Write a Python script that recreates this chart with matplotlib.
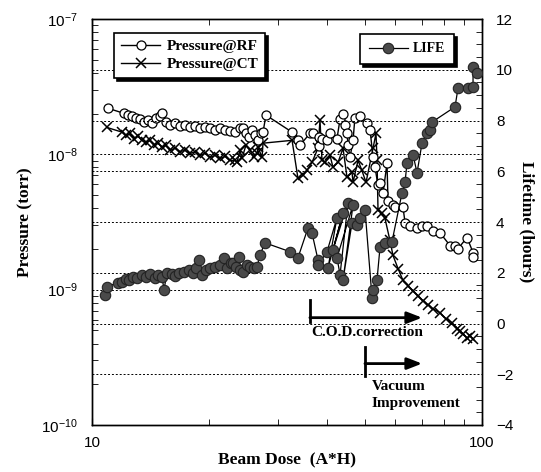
import matplotlib
matplotlib.use("Agg")
import matplotlib.pyplot as plt
from matplotlib.ticker import LogLocator, NullFormatter, MultipleLocator, FixedLocator

plt.rcParams['font.family'] = ['Liberation Sans', 'DejaVu Sans']
plt.rcParams['mathtext.default'] = 'regular'

# ---- data ----
rf_dose = [11.0, 12.08, 12.37, 12.66, 12.96, 13.28, 13.59, 13.92, 14.25, 14.59, 14.94, 15.12,
           15.47, 15.85, 16.32, 16.81, 17.32, 17.84, 18.37, 18.92, 19.49, 20.07, 20.67, 21.29,
           21.93, 22.58, 23.26, 23.96, 24.39, 24.82, 25.26, 25.71, 26.18, 26.65, 27.13, 27.45,
           27.93, 32.58, 33.74, 34.15, 36.22, 36.87, 38.19, 38.19, 38.88, 40.05, 40.77, 42.48,
           43.25, 44.02, 44.54, 45.07, 45.34, 45.87, 46.70, 47.21, 48.64, 50.72, 51.64, 52.55,
           53.17, 54.12, 54.77, 55.73, 57.06, 57.41, 59.12, 59.83, 62.73, 63.48, 65.37, 68.13,
           70.19, 72.27, 74.82, 77.98, 82.76, 85.27, 86.78, 91.54, 94.83, 94.83]
rf_press = [2.19e-8, 2.01e-8, 1.95e-8, 1.91e-8, 1.85e-8, 1.82e-8, 1.73e-8, 1.79e-8, 1.70e-8,
            1.85e-8, 1.91e-8, 2.01e-8, 1.73e-8, 1.64e-8, 1.70e-8, 1.61e-8, 1.64e-8, 1.58e-8,
            1.61e-8, 1.56e-8, 1.58e-8, 1.56e-8, 1.51e-8, 1.56e-8, 1.51e-8, 1.48e-8, 1.46e-8,
            1.56e-8, 1.56e-8, 1.43e-8, 1.34e-8, 1.51e-8, 1.38e-8, 1.27e-8, 1.43e-8, 1.46e-8,
            1.95e-8, 1.46e-8, 1.27e-8, 1.17e-8, 1.43e-8, 1.43e-8, 1.15e-8, 1.34e-8, 1.31e-8,
            1.27e-8, 1.43e-8, 1.31e-8, 1.82e-8, 1.98e-8, 1.64e-8, 1.43e-8, 1.17e-8, 9.5e-9,
            1.27e-8, 1.85e-8, 1.91e-8, 1.70e-8, 1.51e-8, 9.5e-9, 8.0e-9, 5.89e-9, 6.1e-9,
            5.14e-9, 8.58e-9, 4.56e-9, 4.19e-9, 4.05e-9, 4.05e-9, 3.13e-9, 2.98e-9, 2.88e-9,
            2.98e-9, 2.98e-9, 2.73e-9, 2.64e-9, 2.12e-9, 2.12e-9, 2.01e-9, 2.43e-9, 1.88e-9,
            1.73e-9]

ct_dose = [10.93, 11.94, 12.22, 12.51, 12.81, 13.12, 13.43, 13.75, 14.08, 14.42, 14.76, 15.12,
           15.47, 15.85, 16.32, 16.81, 17.32, 17.84, 18.37, 18.92, 19.49, 20.07, 20.67, 21.29,
           21.93, 22.58, 23.26, 23.54, 23.96, 24.24, 24.82, 25.41, 26.02, 26.49, 26.65, 27.29,
           27.45, 32.58, 33.74, 34.75, 35.59, 36.65, 37.97, 38.42, 38.88, 39.57, 40.77, 41.49,
           42.74, 44.02, 45.07, 46.42, 46.70, 48.09, 49.20, 50.42, 52.55, 53.48, 53.80, 54.12,
           55.41, 56.39, 58.07, 59.12, 60.92, 62.73, 64.6, 66.55, 68.5, 70.60, 72.7, 74.82,
           77.98, 80.87, 83.75, 86.28, 87.8, 89.3, 91.54, 93.16, 94.83]
ct_press = [1.58e-8, 1.46e-8, 1.38e-8, 1.43e-8, 1.31e-8, 1.36e-8, 1.27e-8, 1.23e-8, 1.27e-8,
            1.17e-8, 1.21e-8, 1.13e-8, 1.17e-8, 1.07e-8, 1.11e-8, 1.05e-8, 1.07e-8, 1.02e-8,
            1.04e-8, 9.83e-9, 1.02e-8, 9.5e-9, 9.83e-9, 9.34e-9, 9.66e-9, 9.03e-9, 9.03e-9,
            8.73e-9, 1.07e-8, 9.34e-9, 1.17e-8, 1.07e-8, 9.5e-9, 1.02e-8, 1.13e-8, 9.5e-9,
            1.21e-8, 1.27e-8, 6.64e-9, 6.99e-9, 7.61e-9, 8.73e-9, 1.11e-8, 1.79e-8, 9.03e-9,
            8.73e-9, 9.83e-9, 8.01e-9, 8.73e-9, 1.11e-8, 6.76e-9, 7.36e-9, 6.21e-9, 9.03e-9,
            7.61e-9, 6.21e-9, 1.11e-8, 1.43e-8, 9.03e-9, 3.85e-9, 3.66e-9, 3.36e-9, 2.31e-9,
            1.79e-9, 1.43e-9, 1.17e-9, 1.07e-9, 9.83e-10, 9.04e-10, 8.29e-10, 7.74e-10,
            7.23e-10, 6.76e-10, 6.1e-10, 5.7e-10, 5.14e-10, 4.97e-10, 4.72e-10, 4.41e-10,
            4.56e-10, 4.34e-10]

life_dose = [10.80, 10.93, 11.66, 11.94, 12.22, 12.44, 12.74, 13.04, 13.43, 13.75, 14.08, 14.50,
             14.76, 15.12, 15.30, 15.57, 16.03, 16.32, 16.71, 17.21, 17.73, 18.15, 18.48, 18.81,
             19.15, 19.6, 20.07, 20.67, 21.29, 21.81, 22.19, 22.72, 22.99, 23.39, 23.82, 23.96,
             24.39, 24.96, 25.41, 26.02, 26.49, 26.97, 27.77, 32.20, 33.74, 35.80, 36.65, 37.97,
             37.97, 40.05, 42.48, 40.29, 44.02, 41.49, 45.34, 43.25, 42.48, 46.70, 44.02, 46.42,
             47.77, 48.64, 50.12, 52.24, 52.55, 53.80, 54.77, 56.39, 58.76, 62.36, 63.48, 64.23,
             66.55, 68.13, 70.19, 72.27, 73.57, 74.45, 85.27, 86.78, 92.07, 94.83, 94.83, 97.06]
life_hours = [1.13, 1.45, 1.61, 1.65, 1.76, 1.72, 1.84, 1.80, 1.92, 1.84, 1.96, 1.80,
              1.92, 1.84, 1.33, 2.00, 1.96, 1.88, 2.00, 2.04, 2.12, 2.00, 2.20, 2.51,
              1.92, 2.12, 2.20, 2.24, 2.31, 2.59, 2.20, 2.39, 2.39, 2.24, 2.63, 2.12,
              2.04, 2.31, 2.24, 2.20, 2.24, 2.71, 3.18, 2.83, 2.59, 3.77, 3.57, 2.51,
              2.31, 2.83, 4.17, 2.20, 4.36, 2.91, 4.76, 1.92, 2.59, 4.68, 1.72, 3.97,
              3.89, 4.17, 4.48, 1.02, 1.33, 1.72, 3.02, 3.18, 3.22, 5.15, 5.58, 6.33,
              6.65, 5.94, 7.12, 7.51, 7.63, 7.94, 8.54, 9.28, 9.28, 9.32, 10.11, 9.87]

serif_bold = dict(family='Liberation Serif', weight='bold')

fig = plt.figure(figsize=(5.41, 4.72), dpi=100)
ax = fig.add_axes([0.170, 0.0996, 0.721, 0.860])
ax2 = ax.twinx()

# pressure (left, log)
l_rf, = ax.plot(rf_dose, rf_press, '-', color='black', lw=1.0, marker='o', ms=6.5,
                mfc='white', mec='black', mew=0.9, label='Pressure@RF', zorder=3)
l_ct, = ax.plot(ct_dose, ct_press, '-', color='black', lw=1.0, marker='x', ms=7,
                mew=1.1, label='Pressure@CT', zorder=2)

ax.set_xscale('log')
ax.set_yscale('log')
ax.set_xlim(10, 100)
ax.set_ylim(1e-10, 1e-7)
ax.set_xticks([10, 100])
ax.set_xticklabels(['10', '100'])
ax.xaxis.set_minor_locator(LogLocator(base=10, subs=range(2, 10)))
ax.xaxis.set_minor_formatter(NullFormatter())
ax.yaxis.set_major_locator(FixedLocator([1e-10, 1e-9, 1e-8, 1e-7]))
ax.yaxis.set_minor_locator(LogLocator(base=10, subs=range(2, 10)))
ax.yaxis.set_minor_formatter(NullFormatter())
ax.tick_params(axis='both', which='both', direction='in', labelsize=11)
ax.tick_params(axis='x', which='both', top=True)
ax.tick_params(axis='x', which='major', pad=8, length=5)
ax.tick_params(axis='y', which='major', length=0, pad=10)
ax.tick_params(axis='y', which='minor', length=4)
ax.tick_params(axis='x', which='minor', length=4)
for yv in [1e-9, 1e-8]:
    ax.axhline(yv, color='black', lw=0.7, ls=(0, (2, 2)), zorder=1)

# lifetime (right, linear)
l_life, = ax2.plot(life_dose, life_hours, '-', color='black', lw=0.9, marker='o', ms=7.5,
                   mfc='#4a4a4a', mec='#222222', mew=0.8, label='LIFE', zorder=3)
ax2.set_ylim(-4, 12)
ax2.yaxis.set_minor_locator(MultipleLocator(0.5))
ax2.set_yticks([-4, -2, 0, 2, 4, 6, 8, 10, 12])
ax2.set_yticklabels(['\u22124', '\u22122', '0', '2', '4', '6', '8', '10', '12'])
ax2.tick_params(axis='y', which='both', direction='in', labelsize=11)
ax2.tick_params(axis='y', which='major', length=0, pad=10)
ax2.tick_params(axis='y', which='minor', length=4)
for yv in [-2, 0, 2, 4, 6, 8, 10]:
    ax2.axhline(yv, color='black', lw=0.7, ls=(0, (2, 2)), zorder=1)

for a in (ax, ax2):
    for s in a.spines.values():
        s.set_linewidth(1.0)

ax.set_ylabel('Pressure (torr)', fontsize=12.5, labelpad=6, **serif_bold)
ax.set_xlabel('Beam Dose  (A*H)', fontsize=12.5, labelpad=2, **serif_bold)
ax2.set_ylabel('Lifetime (hours)', fontsize=12.5, rotation=270, labelpad=15, **serif_bold)

# legends
shadow = {'color': 'black', 'alpha': 1.0, 'ox': 2, 'oy': -2}
leg1 = ax2.legend([l_rf, l_ct], ['Pressure@RF', 'Pressure@CT'], loc='upper left',
                  bbox_to_anchor=(0.056, 0.966), borderaxespad=0, frameon=True, fancybox=False,
                  shadow=shadow, prop={'family': 'Liberation Serif', 'weight': 'bold', 'size': 11},
                  handlelength=2.6, borderpad=0.45, labelspacing=0.25, handletextpad=0.4)
leg1.get_frame().set_edgecolor('black')
leg1.get_frame().set_linewidth(1.2)
ax2.add_artist(leg1)
leg2 = ax2.legend([l_life], ['LIFE'], loc='upper right', bbox_to_anchor=(0.928, 0.963),
                  borderaxespad=0, frameon=True, fancybox=False, shadow=shadow,
                  prop={'family': 'Liberation Serif', 'weight': 'bold', 'size': 10},
                  handlelength=2.8, borderpad=0.6, handletextpad=0.4)
leg2.get_frame().set_edgecolor('black')
leg2.get_frame().set_linewidth(1.2)

# annotations
ax2.plot([36.2, 36.2], [0.07, 0.94], color='black', lw=2)
ax2.annotate('', xy=(70.2, 0.23), xytext=(36.2, 0.23),
             arrowprops=dict(arrowstyle='-|>,head_length=0.9,head_width=0.35',
                             color='black', lw=2, shrinkA=0, shrinkB=0))
ax2.text(36.4, -0.36, 'C.O.D.correction', fontsize=11, va='center', ha='left', **serif_bold)
ax2.plot([50.1, 50.1], [-2.06, -0.91], color='black', lw=2)
ax2.annotate('', xy=(70.2, -1.58), xytext=(50.1, -1.58),
             arrowprops=dict(arrowstyle='-|>,head_length=0.9,head_width=0.35',
                             color='black', lw=2, shrinkA=0, shrinkB=0))
ax2.text(52.2, -2.49, 'Vacuum', fontsize=11, va='center', ha='left', **serif_bold)
ax2.text(52.2, -3.16, 'Improvement', fontsize=11, va='center', ha='left', **serif_bold)

fig.savefig('out.png', dpi=100)
